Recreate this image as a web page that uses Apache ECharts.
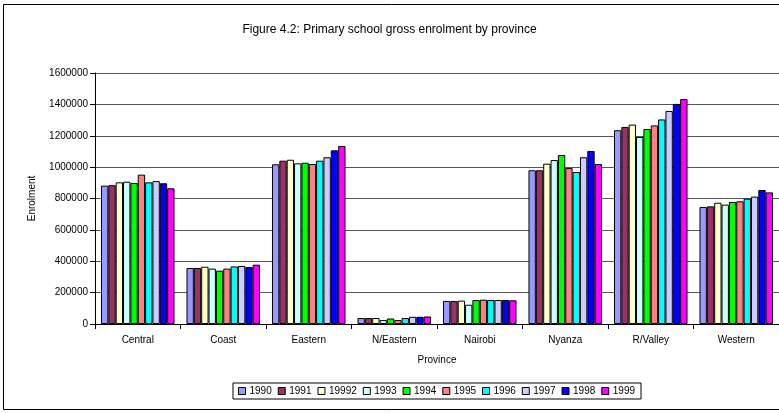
<!DOCTYPE html>
<html>
<head>
<meta charset="utf-8">
<script src="https://cdn.jsdelivr.net/npm/echarts@6/dist/echarts.min.js"></script>
<style>
  html, body { margin: 0; padding: 0; background: #fff; }
  #chart { width: 779px; height: 413px; }
</style>
</head>
<body>
<div id="chart"></div>
<script>
// Primary school gross enrolment by province, 1990-1999
const provinces = ['Central', 'Coast', 'Eastern', 'N/Eastern', 'Nairobi', 'Nyanza', 'R/Valley', 'Western'];
const years = ['1990', '1991', '19992', '1993', '1994', '1995', '1996', '1997', '1998', '1999'];
const yTicks = [0, 200000, 400000, 600000, 800000, 1000000, 1200000, 1400000, 1600000];

const y1990 = [882000, 357000, 1018000, 38000, 147000, 980000, 1235000, 746000];
const y1991 = [885000, 357000, 1041000, 38000, 147000, 980000, 1256000, 750000];
const y1992 = [903000, 365000, 1047000, 38000, 149000, 1022000, 1271000, 773000];
const y1993 = [907000, 353000, 1024000, 25000, 123000, 1045000, 1192000, 761000];
const y1994 = [899000, 340000, 1028000, 35000, 153000, 1077000, 1243000, 778000];
const y1995 = [952000, 353000, 1020000, 25000, 155000, 994000, 1266000, 782000];
const y1996 = [903000, 367000, 1041000, 38000, 153000, 969000, 1304000, 799000];
const y1997 = [911000, 370000, 1063000, 46000, 153000, 1063000, 1358000, 812000];
const y1998 = [897000, 363000, 1107000, 46000, 153000, 1103000, 1403000, 854000];
const y1999 = [865000, 378000, 1135000, 48000, 151000, 1020000, 1434000, 839000];

const seriesValues = [y1990, y1991, y1992, y1993, y1994, y1995, y1996, y1997, y1998, y1999];
const colors = ['#9999FF', '#993366', '#FFFFCC', '#CCFFFF', '#00FF00', '#FF8080', '#00FFFF', '#CCCCFF', '#0000FF', '#FF00FF'];

const font = 'Liberation Sans, Arial, sans-serif';
const chart = echarts.init(document.getElementById('chart'), null, { renderer: 'canvas' });

chart.setOption({
  animation: false,
  backgroundColor: '#fff',
  color: colors,
  graphic: [{
    type: 'rect',
    shape: { x: 3.5, y: 4.5, width: 800, height: 405 },
    style: { fill: 'none', stroke: '#000', lineWidth: 1 },
    silent: true
  }],
  title: {
    text: 'Figure 4.2: Primary school gross enrolment by province',
    left: 'center',
    top: 19,
    textStyle: { fontFamily: font, fontSize: 12, fontWeight: 'normal', color: '#000' }
  },
  legend: {
    data: years,
    left: 233,
    top: 383,
    itemWidth: 7,
    itemHeight: 7,
    itemGap: 6,
    padding: [3, 6, 3, 5],
    borderColor: '#000',
    borderWidth: 1,
    icon: 'rect',
    itemStyle: { borderColor: '#000', borderWidth: 1 },
    textStyle: { fontFamily: font, fontSize: 10, color: '#000', padding: [0, 0, 0, -1] }
  },
  grid: { left: 95, right: 0, top: 73, bottom: 89, containLabel: false },
  xAxis: {
    type: 'category',
    data: provinces,
    name: 'Province',
    nameLocation: 'middle',
    nameGap: 31,
    nameTextStyle: { fontFamily: font, fontSize: 10, color: '#000' },
    axisLine: { lineStyle: { color: '#000', width: 1 } },
    axisTick: { show: true, length: 5, lineStyle: { color: '#000' } },
    axisLabel: { fontFamily: font, fontSize: 10, color: '#000', margin: 11 }
  },
  yAxis: {
    type: 'value',
    min: yTicks[0],
    max: yTicks[yTicks.length - 1],
    interval: yTicks[1] - yTicks[0],
    name: 'Enrolment',
    nameLocation: 'middle',
    nameGap: 58,
    nameTextStyle: { fontFamily: font, fontSize: 10, color: '#000' },
    axisLine: { show: true, lineStyle: { color: '#000', width: 1 } },
    axisTick: { show: true, length: 5, lineStyle: { color: '#000' } },
    axisLabel: { fontFamily: font, fontSize: 10, color: '#000', margin: 7, formatter: v => String(v) },
    splitLine: { show: true, lineStyle: { color: '#555', width: 1 } }
  },
  series: seriesValues.map((vals, i) => ({
    name: years[i],
    type: 'bar',
    data: vals,
    barGap: '0%',
    barCategoryGap: '14%',
    itemStyle: { color: colors[i], borderColor: '#000', borderWidth: 1 }
  }))
});
</script>
</body>
</html>
